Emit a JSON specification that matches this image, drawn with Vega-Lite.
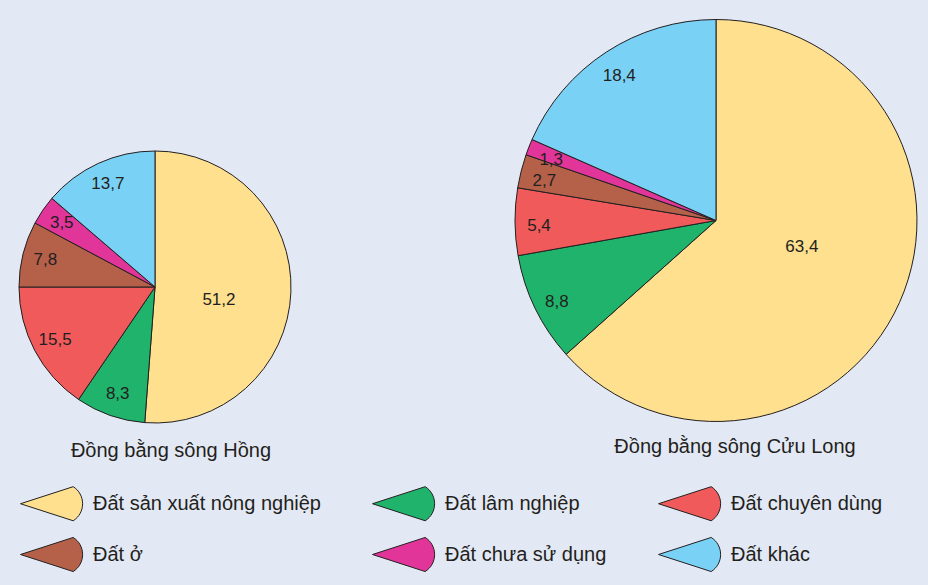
{
  "$schema": "https://vega.github.io/schema/vega-lite/v6.json",
  "width": 928,
  "height": 585,
  "padding": 0,
  "autosize": {"type": "none"},
  "background": "#e3e9f4",
  "data": {
    "values": [
      {"vung": "Đồng bằng sông Hồng", "loai": "Đất sản xuất nông nghiệp", "stt": 1, "ty_le": 51.2},
      {"vung": "Đồng bằng sông Hồng", "loai": "Đất lâm nghiệp", "stt": 2, "ty_le": 8.3},
      {"vung": "Đồng bằng sông Hồng", "loai": "Đất chuyên dùng", "stt": 3, "ty_le": 15.5},
      {"vung": "Đồng bằng sông Hồng", "loai": "Đất ở", "stt": 4, "ty_le": 7.8},
      {"vung": "Đồng bằng sông Hồng", "loai": "Đất chưa sử dụng", "stt": 5, "ty_le": 3.5},
      {"vung": "Đồng bằng sông Hồng", "loai": "Đất khác", "stt": 6, "ty_le": 13.7},
      {"vung": "Đồng bằng sông Cửu Long", "loai": "Đất sản xuất nông nghiệp", "stt": 1, "ty_le": 63.4},
      {"vung": "Đồng bằng sông Cửu Long", "loai": "Đất lâm nghiệp", "stt": 2, "ty_le": 8.8},
      {"vung": "Đồng bằng sông Cửu Long", "loai": "Đất chuyên dùng", "stt": 3, "ty_le": 5.4},
      {"vung": "Đồng bằng sông Cửu Long", "loai": "Đất ở", "stt": 4, "ty_le": 2.7},
      {"vung": "Đồng bằng sông Cửu Long", "loai": "Đất chưa sử dụng", "stt": 5, "ty_le": 1.3},
      {"vung": "Đồng bằng sông Cửu Long", "loai": "Đất khác", "stt": 6, "ty_le": 18.4}
    ]
  },
  "encoding": {
    "x": {
      "field": "vung",
      "type": "nominal",
      "axis": null,
      "scale": {"type": "point", "domain": ["Đồng bằng sông Hồng", "Đồng bằng sông Cửu Long"], "range": [155, 716], "padding": 0}
    },
    "y": {
      "field": "vung",
      "type": "nominal",
      "axis": null,
      "scale": {"type": "point", "domain": ["Đồng bằng sông Hồng", "Đồng bằng sông Cửu Long"], "range": [287, 220.5], "padding": 0}
    }
  },
  "layer": [
    {
      "transform": [{"filter": "datum.vung == 'Đồng bằng sông Hồng'"}],
      "encoding": {
        "theta": {"field": "ty_le", "type": "quantitative", "stack": true},
        "order": {"field": "stt", "type": "quantitative"}
      },
      "layer": [
        {
          "mark": {"type": "arc", "radius": 136, "stroke": "#231f20", "strokeWidth": 1},
          "encoding": {
            "color": {
              "field": "loai",
              "type": "nominal",
              "scale": {
                "domain": ["Đất sản xuất nông nghiệp", "Đất lâm nghiệp", "Đất chuyên dùng", "Đất ở", "Đất chưa sử dụng", "Đất khác"],
                "range": ["#fee08f", "#1fb36c", "#f05a5b", "#b5614a", "#e2359a", "#79d2f6"]
              },
              "legend": {
                "orient": "none",
                "legendX": 20,
                "legendY": 472,
                "title": null,
                "columns": 3,
                "values": ["Đất sản xuất nông nghiệp", "Đất ở", "Đất lâm nghiệp", "Đất chưa sử dụng", "Đất chuyên dùng", "Đất khác"],
                "symbolType": "M-1,0 L0.7,-0.55 A0.65,0.65 0 0,1 0.7,0.55 Z",
                "symbolSize": 3844,
                "symbolStrokeColor": "#231f20",
                "symbolStrokeWidth": 1,
                "labelFontSize": 20,
                "labelOffset": 10,
                "labelColor": "#231f20",
                "columnPadding": 49,
                "rowPadding": -7,
                "labelLimit": 400
              }
            }
          }
        },
        {
          "mark": {"type": "text", "radius": 113, "fontSize": 17, "color": "#231f20"},
          "encoding": {
            "text": {"condition": {"test": "datum.stt == 1", "value": ""}, "field": "ty_le", "type": "quantitative", "format": ".1f"}
          }
        },
        {
          "mark": {"type": "text", "radius": 64, "fontSize": 17, "color": "#231f20", "dy": 11},
          "encoding": {
            "text": {"condition": {"test": "datum.stt != 1", "value": ""}, "field": "ty_le", "type": "quantitative", "format": ".1f"}
          }
        }
      ]
    },
    {
      "transform": [{"filter": "datum.vung == 'Đồng bằng sông Cửu Long'"}],
      "encoding": {
        "theta": {"field": "ty_le", "type": "quantitative", "stack": true},
        "order": {"field": "stt", "type": "quantitative"}
      },
      "layer": [
        {
          "mark": {"type": "arc", "radius": 201, "stroke": "#231f20", "strokeWidth": 1},
          "encoding": {
            "color": {"field": "loai", "type": "nominal"}
          }
        },
        {
          "mark": {"type": "text", "radius": 177, "fontSize": 17, "color": "#231f20", "dy": 4},
          "encoding": {
            "text": {"condition": {"test": "datum.stt == 1", "value": ""}, "field": "ty_le", "type": "quantitative", "format": ".1f"}
          }
        },
        {
          "mark": {"type": "text", "radius": 82, "fontSize": 17, "color": "#231f20", "dx": 11, "dy": -7},
          "encoding": {
            "text": {"condition": {"test": "datum.stt != 1", "value": ""}, "field": "ty_le", "type": "quantitative", "format": ".1f"}
          }
        }
      ]
    },
    {
      "transform": [{"filter": "datum.vung == 'Đồng bằng sông Hồng' && datum.stt == 1"}],
      "mark": {"type": "text", "fontSize": 20, "color": "#231f20", "dx": 16, "dy": 164},
      "encoding": {"text": {"field": "vung"}}
    },
    {
      "transform": [{"filter": "datum.vung == 'Đồng bằng sông Cửu Long' && datum.stt == 1"}],
      "mark": {"type": "text", "fontSize": 20, "color": "#231f20", "dx": 19, "dy": 226},
      "encoding": {"text": {"field": "vung"}}
    }
  ],
  "config": {
    "view": {"stroke": null},
    "font": "Liberation Sans",
    "text": {"font": "Liberation Sans"},
    "legend": {"labelFont": "Liberation Sans"},
    "locale": {
      "number": {"decimal": ",", "thousands": ".", "grouping": [3], "currency": ["", " đ"]}
    }
  }
}
